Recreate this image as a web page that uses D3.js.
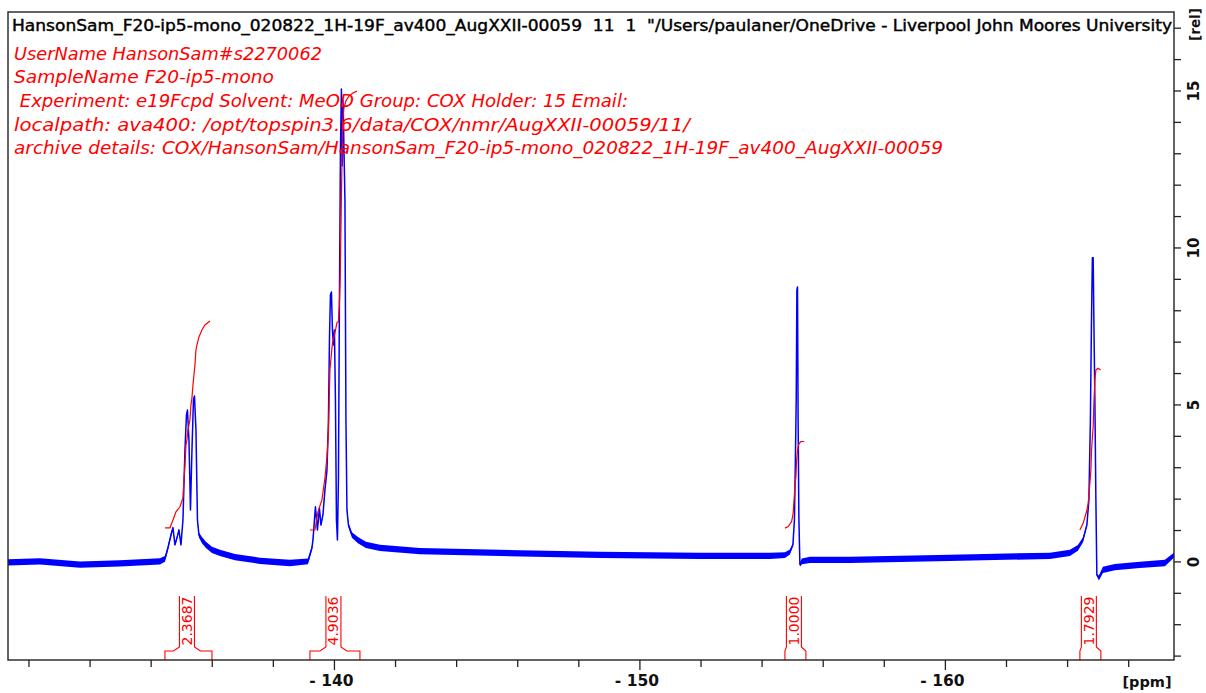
<!DOCTYPE html>
<html><head><meta charset="utf-8">
<script src="https://cdn.jsdelivr.net/npm/d3@7"></script>
<style>body{margin:0;background:#fff;} svg{display:block;}</style>
</head><body>
<svg id="chart" width="1206" height="693"></svg>
<script>
// ---------- data ----------
const headerText = 'HansonSam_F20-ip5-mono_020822_1H-19F_av400_AugXXII-00059  11  1  "/Users/paulaner/OneDrive - Liverpool John Moores University';
const infoLines = [
  'UserName HansonSam#s2270062',
  'SampleName F20-ip5-mono',
  ' Experiment: e19Fcpd Solvent: MeOD Group: COX Holder: 15 Email:',
  'localpath: ava400: /opt/topspin3.6/data/COX/nmr/AugXXII-00059/11/',
  'archive details: COX/HansonSam/HansonSam_F20-ip5-mono_020822_1H-19F_av400_AugXXII-00059'
];
const xMajorTicks = [-140, -150, -160];
const xMinorTicks = [-130,-132,-134,-136,-138,-142,-144,-146,-148,-152,-154,-156,-158,-162,-164,-166];
const yTicks = [-3,-2,-1,0,1,2,3,4,5,6,7,8,9,10,11,12,13,14,15,16,17];
const yTickLabels = [0, 5, 10, 15];
const xUnit = '[ppm]';
const yUnit = '[rel]';

const spectrumPpm = [-129.329,-130.376,-131.686,-132.995,-134.304,-134.468,-134.566,-134.664,-134.730,-134.795,-134.861,-134.926,-134.992,-135.057,-135.123,-135.172,-135.205,-135.254,-135.303,-135.352,-135.401,-135.434,-135.483,-135.532,-135.581,-135.679,-135.810,-136.007,-136.268,-136.759,-137.578,-138.560,-139.149,-139.280,-139.313,-139.394,-139.460,-139.525,-139.574,-139.640,-139.705,-139.771,-139.820,-139.853,-139.885,-139.918,-139.951,-139.984,-140.016,-140.049,-140.082,-140.115,-140.147,-140.180,-140.213,-140.245,-140.272,-140.301,-140.327,-140.360,-140.393,-140.426,-140.475,-140.589,-140.786,-141.047,-141.506,-142.815,-145.434,-148.707,-151.980,-154.272,-154.763,-154.926,-155.025,-155.074,-155.106,-155.133,-155.155,-155.175,-155.195,-155.221,-155.254,-155.319,-155.581,-156.890,-160.164,-163.437,-164.092,-164.354,-164.517,-164.648,-164.714,-164.763,-164.795,-164.828,-164.854,-164.877,-164.910,-164.943,-164.975,-165.041,-165.172,-165.565,-166.383,-167.201,-167.496];
const spectrumIntensity = [-0.03,0.0,-0.10,-0.06,0.0,0.08,0.43,0.84,1.07,0.53,0.75,1.0,0.53,1.32,3.55,4.67,4.82,3.87,1.64,3.55,5.14,5.27,4.19,1.32,0.84,0.68,0.53,0.37,0.27,0.14,0.02,-0.05,0.0,0.43,0.68,1.74,1.0,1.70,1.16,1.48,2.28,2.9,4.5,7.05,8.49,8.58,7.37,6.89,7.37,5.14,1.32,0.68,2.6,8.33,13.1,15.05,12.6,14.7,13.2,11.5,4.5,1.64,1.16,0.84,0.68,0.53,0.43,0.33,0.27,0.21,0.18,0.18,0.2,0.3,0.53,1.32,3.23,5.14,8.65,8.74,4.5,1.32,-0.1,0.0,0.05,0.05,0.11,0.18,0.27,0.43,0.68,1.16,1.96,4.5,7.37,9.67,9.67,7.69,5.14,1.96,-0.43,-0.53,-0.27,-0.18,-0.11,-0.05,0.2];
const spectrumNoise = [0.1,0.1,0.1,0.1,0.1,0.09,0.08,0.07,0.05,0.05,0.05,0.05,0.05,0.04,0.02,0.02,0.02,0.02,0.02,0.02,0.02,0.02,0.02,0.04,0.08,0.1,0.1,0.1,0.1,0.1,0.1,0.1,0.09,0.07,0.05,0.04,0.04,0.04,0.04,0.04,0.03,0.03,0.02,0.02,0.02,0.02,0.02,0.02,0.02,0.02,0.02,0.02,0.02,0.02,0.02,0.02,0.02,0.02,0.02,0.02,0.02,0.04,0.07,0.09,0.1,0.1,0.1,0.1,0.1,0.1,0.1,0.1,0.09,0.08,0.05,0.03,0.02,0.02,0.02,0.02,0.02,0.03,0.07,0.09,0.1,0.1,0.1,0.1,0.1,0.09,0.08,0.05,0.04,0.02,0.02,0.02,0.02,0.02,0.02,0.02,0.04,0.08,0.1,0.1,0.1,0.1,0.08];

const integral1Ppm = [-134.468,-134.632,-134.730,-134.828,-134.959,-135.057,-135.090,-135.123,-135.156,-135.188,-135.221,-135.286,-135.319,-135.352,-135.385,-135.450,-135.483,-135.516,-135.581,-135.679,-135.777,-135.941];
const integral1Val = [1.07,1.07,1.32,1.58,1.74,2.02,2.60,3.07,3.71,3.87,4.19,4.51,4.98,5.21,5.62,6.26,6.74,6.90,7.15,7.37,7.53,7.66];
const integral2Ppm = [-139.214,-139.378,-139.476,-139.607,-139.705,-139.771,-139.820,-139.869,-139.951,-140.033,-140.098,-140.147,-140.180,-140.206,-140.229,-140.255,-140.285,-140.327,-140.393,-140.491,-140.622,-140.753];
const integral2Val = [1.00,1.00,1.58,1.96,2.66,3.33,4.09,6.10,6.96,7.28,7.60,7.64,8.23,9.06,10.56,12.25,14.06,14.44,14.67,14.82,14.92,14.98];
const integral3Ppm = [-154.763,-154.871,-154.982,-155.034,-155.090,-155.123,-155.146,-155.178,-155.198,-155.231,-155.286,-155.394];
const integral3Val = [1.06,1.11,1.27,1.54,2.38,2.70,3.23,3.55,3.66,3.76,3.82,3.82];
const integral4Ppm = [-164.419,-164.527,-164.638,-164.691,-164.746,-164.779,-164.802,-164.822,-164.854,-164.877,-164.910,-164.943,-165.018,-165.097];
const integral4Val = [1.00,1.22,1.59,1.85,2.49,2.91,3.55,3.87,4.29,5.04,5.78,6.10,6.15,6.10];

const integralLabels = ['2.3687', '4.9036', '1.0000', '1.7929'];
const integralFrom = [-134.468, -139.214, -154.763, -164.419];
const integralTo = [-136.007, -140.851, -155.450, -165.106];

// ---------- drawing ----------
const svg = d3.select('#chart');
const L = 8, R = 1174, T = 12, B = 660;
const x = d3.scaleLinear().domain([-129.33, -167.50]).range([L, R]);
const y = d3.scaleLinear().domain([17.5, -3.14]).range([T, B]);
const BLUE = '#0000ff', RED = '#ff0000';
const FONT = '"DejaVu Sans", "Lucida Grande", sans-serif';

svg.append('defs').append('clipPath').attr('id', 'plotclip')
  .append('rect').attr('x', L).attr('y', T).attr('width', R - L).attr('height', B - T);

const plot = svg.append('g').attr('clip-path', 'url(#plotclip)');

const spec = spectrumPpm.map((p, i) => ({p, v: spectrumIntensity[i], n: spectrumNoise[i]}));
plot.append('path')
  .attr('d', d3.area().x(d => x(d.p)).y0(d => y(d.v - d.n)).y1(d => y(d.v + d.n))(spec))
  .attr('fill', BLUE).attr('stroke', 'none');
plot.append('path')
  .attr('d', d3.line().x(d => x(d.p)).y(d => y(d.v))(spec))
  .attr('fill', 'none').attr('stroke', BLUE).attr('stroke-width', 1.5)
  .attr('stroke-linejoin', 'round');

const integrals = [[integral1Ppm, integral1Val], [integral2Ppm, integral2Val], [integral3Ppm, integral3Val], [integral4Ppm, integral4Val]];
integrals.forEach(([pp, vv]) => {
  plot.append('path')
    .attr('d', d3.line().x(d => x(d[0])).y(d => y(d[1]))(pp.map((p, i) => [p, vv[i]])))
    .attr('fill', 'none').attr('stroke', RED).attr('stroke-width', 1.2);
});

// header + info text
svg.append('text').attr('x', 12).attr('y', 31)
  .style('white-space', 'pre')
  .attr('font-family', FONT).attr('font-size', 15).attr('fill', '#000')
  .attr('stroke', '#000').attr('stroke-width', 0.4)
  .attr('textLength', 1160).attr('lengthAdjust', 'spacingAndGlyphs')
  .text(headerText);

const infoWidths = [308, 260, 614, 676, 929];
infoLines.forEach((t, i) => {
  svg.append('text').attr('x', 14).attr('y', 59.5 + 23.7 * i)
    .style('white-space', 'pre')
    .attr('font-family', FONT).attr('font-size', 17.5).attr('font-style', 'italic')
    .attr('fill', RED)
    .attr('textLength', infoWidths[i]).attr('lengthAdjust', 'spacingAndGlyphs')
    .text(t);
});

// integral labels with brackets
const half = 7.5, topY = 596, innerY = 647, outerY = 651;
integralLabels.forEach((lab, i) => {
  const xa = x(integralFrom[i]), xb = x(integralTo[i]);
  const cx = (xa + xb) / 2 - 1.5;
  const lh = Math.max(xa, cx - half - 6), rh = Math.min(xb, cx + half + 6);
  const path = `M${xa},${B} V${outerY} H${lh} L${cx - half},${innerY} V${topY}` +
               ` M${cx + half},${topY} V${innerY} L${rh},${outerY} H${xb} V${B}`;
  svg.append('path').attr('d', path).attr('fill', 'none').attr('stroke', RED).attr('stroke-width', 1.1);
  svg.append('text').attr('transform', `translate(${cx},${(topY + innerY) / 2 - 0.5}) rotate(-90)`)
    .attr('text-anchor', 'middle').attr('dy', '0.36em')
    .attr('font-family', FONT).attr('font-size', 14).attr('fill', RED)
    .text(lab);
});

// frame
svg.append('rect').attr('x', L).attr('y', T).attr('width', R - L).attr('height', B - T)
  .attr('fill', 'none').attr('stroke', '#222').attr('stroke-width', 1.4);

// bottom axis
const gMinor = svg.append('g').attr('transform', `translate(0,${B})`)
  .call(d3.axisBottom(x).tickValues(xMinorTicks).tickSize(7).tickFormat(''));
const gMajor = svg.append('g').attr('transform', `translate(0,${B})`)
  .call(d3.axisBottom(x).tickValues(xMajorTicks).tickSize(10).tickPadding(5)
    .tickFormat(d => '- ' + Math.abs(d)));
[gMinor, gMajor].forEach(g => {
  g.select('.domain').remove();
  g.selectAll('line').attr('stroke', '#222').attr('stroke-width', 1.3);
});
gMajor.selectAll('text').attr('font-family', FONT).attr('font-size', 15.5).attr('font-weight', 'bold')
  .attr('fill', '#111').attr('dx', -3);
svg.append('text').attr('x', 1147).attr('y', 687).attr('text-anchor', 'middle')
  .attr('font-family', FONT).attr('font-size', 14.5).attr('font-weight', 'bold').attr('fill', '#111')
  .text(xUnit);

// right axis
const gY = svg.append('g').attr('transform', `translate(${R},0)`)
  .call(d3.axisRight(y).tickValues(yTicks).tickSize(7)
    .tickFormat(d => yTickLabels.includes(d) ? String(d) : ''));
gY.select('.domain').remove();
gY.selectAll('line').attr('stroke', '#222').attr('stroke-width', 1.3);
gY.selectAll('text')
  .attr('x', 0).attr('dy', '0.36em').attr('text-anchor', 'middle')
  .attr('transform', 'translate(20,0) rotate(-90)')
  .attr('font-family', FONT).attr('font-size', 15).attr('font-weight', 'bold').attr('fill', '#111');
svg.append('text').attr('transform', `translate(${R + 21},${y(17.1)}) rotate(-90)`)
  .attr('text-anchor', 'middle').attr('dy', '0.36em')
  .attr('font-family', FONT).attr('font-size', 13.5).attr('font-weight', 'bold').attr('fill', '#111')
  .text(yUnit);
</script>
</body></html>
